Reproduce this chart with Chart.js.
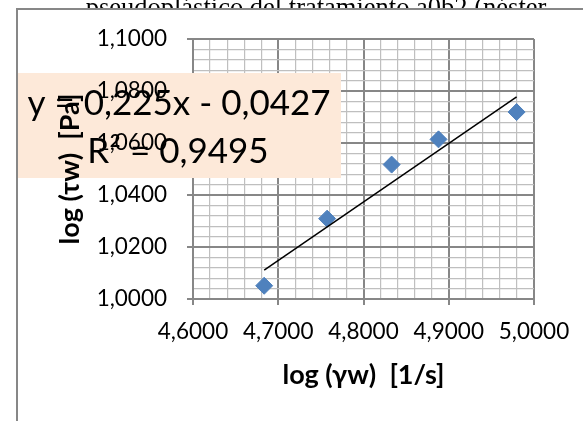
<!DOCTYPE html>
<html>
<head>
<meta charset="utf-8">
<script src="https://cdn.jsdelivr.net/npm/chart.js@4.4.1/dist/chart.umd.min.js"></script>
<style>
  html, body { margin: 0; padding: 0; background: #ffffff; }
  canvas { display: block; }
</style>
</head>
<body>
<canvas id="chart" width="583" height="421"></canvas>
<script>
// Measured points: log shear rate vs log wall shear stress
const logShearRate   = [4.6835, 4.7573, 4.8330, 4.8880, 4.9796];
const logShearStress = [1.0051, 1.0309, 1.0517, 1.0614, 1.0719];

// Linear trendline as reported on the chart
const trendSlope = 0.225;
const trendIntercept = -0.0427;
const rSquared = 0.9495;

// Axis ranges and gridline steps (5 minor divisions per labelled step)
const xRange = [4.6, 5.0];
const yRange = [1.0, 1.1];
const xMinorStep = 0.02;
const yMinorStep = 0.004;
const minorPerMajor = 5;

const xTitle = 'log (γw)  [1/s]';
const yTitle = 'log (τw)  [Pa]';
const captionAbove = 'pseudoplástico del tratamiento a0b2 (néster';

const UI_FONT = 'Lato, "Open Sans", sans-serif';
const MAJOR_GRID = '#878787';
const MINOR_GRID = '#bfbfbf';
const MARKER_BLUE = '#4F81BD';
const LABEL_FILL = '#FDE9D9';
const LABEL_BOX = { x: 18, y: 73, w: 323, h: 105 };

const fmt = (v, d) => v.toFixed(d).replace('.', ',');

const points = logShearRate.map((x, i) => ({ x, y: logShearStress[i] }));
const xFitMin = Math.min(...logShearRate);
const xFitMax = Math.max(...logShearRate);
const trendPoints = [xFitMin, xFitMax].map(x => ({ x, y: trendSlope * x + trendIntercept }));

const eqLine1 = 'y = ' + fmt(trendSlope, 3) + 'x - ' + fmt(-trendIntercept, 4);
const eqLine2 = 'R² = ' + fmt(rSquared, 4);

const isMajor = ctx => ctx.index % minorPerMajor === 0;

// Page background, clipped caption line and the chart frame
const pageFrame = {
  id: 'pageFrame',
  beforeDraw(chart) {
    const { ctx, width, height } = chart;
    ctx.save();
    ctx.fillStyle = '#ffffff';
    ctx.fillRect(0, 0, width, height);
    ctx.fillStyle = '#000000';
    ctx.font = '26.5px "Liberation Serif", "DejaVu Serif", serif';
    ctx.textAlign = 'center';
    ctx.textBaseline = 'alphabetic';
    ctx.fillText(captionAbove, 316, 16);
    ctx.fillStyle = '#ffffff';
    ctx.fillRect(16, 9, width - 16, height - 9);
    ctx.strokeStyle = '#878787';
    ctx.lineWidth = 2;
    ctx.beginPath();
    ctx.moveTo(17, height);
    ctx.lineTo(17, 9);
    ctx.lineTo(width, 9);
    ctx.stroke();
    ctx.restore();
  }
};

// Trendline equation label; the y-axis title stays readable on top of it
const equationLabel = {
  id: 'equationLabel',
  afterDatasetsDraw(chart) {
    const { ctx } = chart;
    const b = LABEL_BOX;
    ctx.save();
    ctx.fillStyle = LABEL_FILL;
    ctx.fillRect(b.x, b.y, b.w, b.h);
    ctx.beginPath();
    ctx.rect(b.x, b.y, b.w, b.h);
    ctx.clip();
    chart.scales.y.drawTitle();
    ctx.restore();

    ctx.save();
    ctx.fillStyle = '#000000';
    ctx.font = '35px ' + UI_FONT;
    ctx.textAlign = 'center';
    ctx.textBaseline = 'alphabetic';
    ctx.fillText(eqLine1, 179, 115);
    ctx.fillText(eqLine2, 178, 163);
    ctx.restore();
  }
};

const tickFont = { family: UI_FONT, size: 22.5 };
const titleFont = { family: UI_FONT, size: 27, weight: 'bold' };

const gridStyle = {
  color: ctx => (isMajor(ctx) ? MAJOR_GRID : MINOR_GRID),
  lineWidth: ctx => (isMajor(ctx) ? 2 : 1.2),
  tickLength: 6,
  tickColor: ctx => (isMajor(ctx) ? MAJOR_GRID : 'rgba(0,0,0,0)'),
  tickWidth: 2
};

new Chart(document.getElementById('chart'), {
  type: 'scatter',
  data: {
    datasets: [
      {
        label: 'trend',
        data: trendPoints,
        showLine: true,
        borderColor: '#000000',
        borderWidth: 1.5,
        pointRadius: 0,
        fill: false,
        order: 0
      },
      {
        label: 'log (τw)',
        data: points,
        pointStyle: 'rectRot',
        pointRadius: 8.5,
        backgroundColor: MARKER_BLUE,
        borderColor: MARKER_BLUE,
        borderWidth: 1,
        order: 1
      }
    ]
  },
  options: {
    responsive: false,
    animation: false,
    devicePixelRatio: 1,
    layout: { padding: { top: 39, right: 49, left: 0, bottom: 0 } },
    plugins: {
      legend: { display: false },
      tooltip: { enabled: false }
    },
    scales: {
      x: {
        type: 'linear',
        position: 'bottom',
        min: xRange[0],
        max: xRange[1],
        afterFit: s => { s.height = 122; },
        ticks: {
          stepSize: xMinorStep,
          autoSkip: false,
          maxRotation: 0,
          minRotation: 0,
          padding: 13,
          color: '#000000',
          font: tickFont,
          callback: (v, i) => (i % minorPerMajor === 0 ? fmt(v, 4) : '')
        },
        grid: gridStyle,
        border: { color: MAJOR_GRID, width: 2 },
        title: {
          display: true,
          text: xTitle,
          color: '#000000',
          font: titleFont,
          padding: { top: 0, bottom: 30 }
        }
      },
      y: {
        type: 'linear',
        position: 'left',
        min: yRange[0],
        max: yRange[1],
        afterFit: s => { s.width = 193; },
        ticks: {
          stepSize: yMinorStep,
          autoSkip: false,
          padding: 20,
          z: 1,
          color: '#000000',
          font: tickFont,
          callback: (v, i) => (i % minorPerMajor === 0 ? fmt(v, 4) : '')
        },
        grid: gridStyle,
        border: { color: MAJOR_GRID, width: 2 },
        title: {
          display: true,
          text: yTitle,
          color: '#000000',
          font: titleFont,
          padding: { top: 54, bottom: 0 }
        }
      }
    }
  },
  plugins: [pageFrame, equationLabel]
});
</script>
</body>
</html>
